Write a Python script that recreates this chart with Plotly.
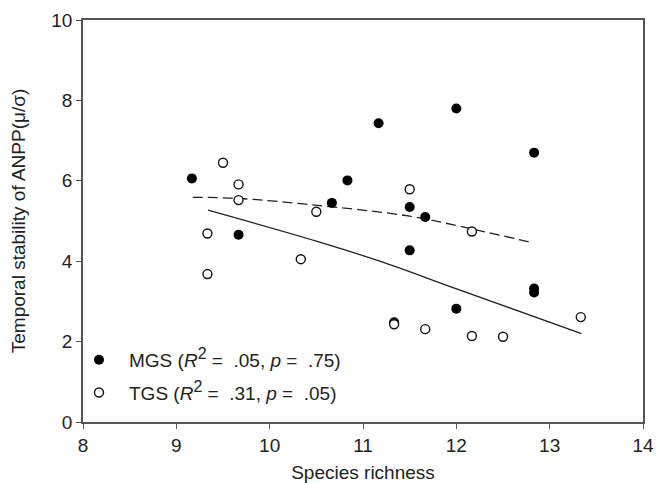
import plotly.graph_objects as go

# Data
mgs_richness = [55/6, 58/6, 64/6, 65/6, 67/6, 69/6, 69/6, 70/6, 72/6, 77/6, 77/6, 77/6, 72/6, 68/6]
mgs_stability = [6.06, 4.66, 5.45, 6.01, 7.43, 5.35, 4.27, 5.10, 7.80, 6.70, 3.32, 3.22, 2.82, 2.48]

tgs_richness = [56/6, 56/6, 57/6, 58/6, 58/6, 62/6, 63/6, 69/6, 73/6, 68/6, 70/6, 73/6, 75/6, 80/6]
tgs_stability = [4.69, 3.68, 6.45, 5.91, 5.52, 4.05, 5.23, 5.79, 4.74, 2.43, 2.31, 2.14, 2.12, 2.61]

# Fitted curves
mgs_fit_x = [9.175, 9.675, 10.51, 11.5, 12.17, 12.82]
mgs_fit_y = [5.59, 5.56, 5.39, 5.12, 4.80, 4.46]
tgs_fit_x = [9.34, 10.5, 11.18, 12.04, 13.34]
tgs_fit_y = [5.27, 4.50, 4.00, 3.28, 2.20]

SUP2 = "<sup><span style='font-size:16px'>2</span></sup>"
mgs_label = f"MGS (<i>R</i>{SUP2} = &nbsp;.05, <i>p</i> = &nbsp;.75)"
tgs_label = f"TGS (<i>R</i>{SUP2} = &nbsp;.31, <i>p</i> = &nbsp;.05)"

FONT = "Liberation Sans, Arial, sans-serif"
FS = 19

fig = go.Figure()
fig.add_trace(go.Scatter(x=mgs_fit_x, y=mgs_fit_y, mode="lines", line_shape="spline",
                         line=dict(color="#222", width=1.3, dash="10px,5px"), showlegend=False, hoverinfo="skip"))
fig.add_trace(go.Scatter(x=tgs_fit_x, y=tgs_fit_y, mode="lines", line_shape="spline",
                         line=dict(color="#222", width=1.3), showlegend=False, hoverinfo="skip"))
fig.add_trace(go.Scatter(x=mgs_richness, y=mgs_stability, mode="markers", name=mgs_label, legendgroup="mgs",
                         marker=dict(symbol="circle", size=10, color="black", line=dict(color="black", width=0))))
fig.add_trace(go.Scatter(x=tgs_richness, y=tgs_stability, mode="markers", name=tgs_label, legendgroup="tgs",
                         marker=dict(symbol="circle", size=9, color="white", line=dict(color="#111", width=1.4))))

axis_common = dict(showgrid=False, zeroline=False, showline=True, linecolor="#555", linewidth=1.5,
                   mirror=True, ticks="outside", ticklen=5, tickwidth=1.2, tickcolor="#555", automargin=False,
                   tickfont=dict(family=FONT, size=FS, color="#222"))

# page body has an 8px default margin; the figure is sized to compensate
fig.update_layout(
    width=657, height=475,
    margin=dict(l=75, r=22, t=12, b=61),
    paper_bgcolor="white", plot_bgcolor="white",
    font=dict(family=FONT, size=FS, color="#222"),
    xaxis=dict(range=[8, 14], tickvals=[8, 9, 10, 11, 12, 13, 14],
               title=dict(text="Species richness", font=dict(size=FS), standoff=15), **axis_common),
    yaxis=dict(range=[0, 10], tickvals=[0, 2, 4, 6, 8, 10],
               title=dict(text="Temporal stability of ANPP(μ/σ)", font=dict(size=FS), standoff=25), **axis_common),
    legend=dict(x=-0.025, y=0.025, xanchor="left", yanchor="bottom", bgcolor="rgba(0,0,0,0)",
                font=dict(size=FS), itemsizing="trace", itemwidth=50, tracegroupgap=5),
    showlegend=True,
)

fig.write_html("out.html")
